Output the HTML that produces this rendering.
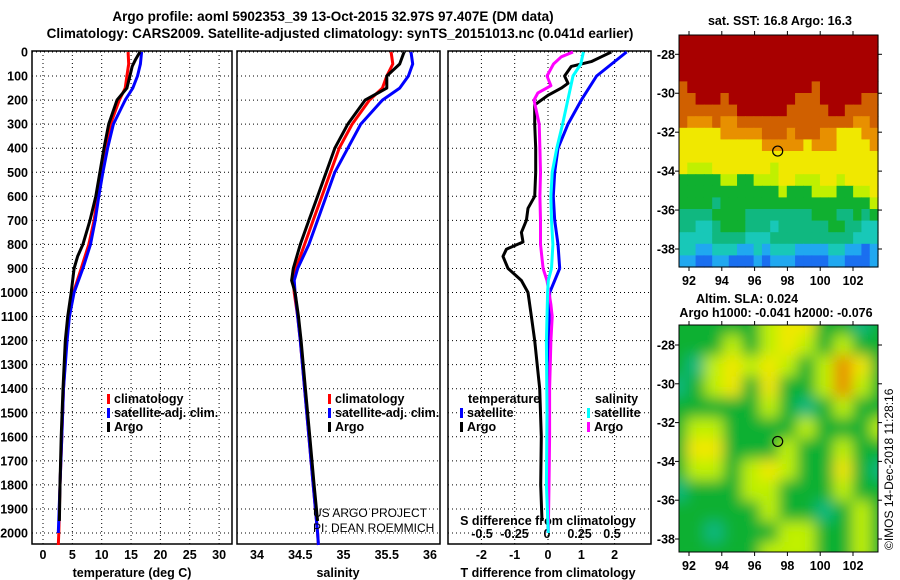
<!DOCTYPE html>
<html><head><meta charset="utf-8"><style>
body{margin:0;background:#fff}
svg{display:block;font-family:"Liberation Sans",sans-serif;font-weight:bold}
</style></head><body>
<svg id="s" width="900" height="580" viewBox="0 0 900 580">
<defs>
<filter id="blur" x="-5%" y="-5%" width="110%" height="110%"><feGaussianBlur stdDeviation="7"/></filter>
<clipPath id="clipB"><rect x="679" y="325" width="199" height="227"/></clipPath>
</defs>
<text x="333" y="21" font-size="13.5" text-anchor="middle">Argo profile: aoml 5902353_39 13-Oct-2015 32.97S 97.407E (DM data)</text>
<text x="340" y="38" font-size="13.5" text-anchor="middle">Climatology: CARS2009. Satellite-adjusted climatology: synTS_20151013.nc (0.041d earlier)</text>
<g id="g"></g>
</svg>
<script>
// ---------- data ----------
const depthTicks=[0,100,200,300,400,500,600,700,800,900,1000,1100,1200,1300,1400,1500,1600,1700,1800,1900,2000];
const tempTicks=[0,5,10,15,20,25,30];
const salTicks=[34,34.5,35,35.5,36];
const salTickLabels=["34","34.5","35","35.5","36"];
const tdTicks=[-2,-1,0,1,2];
const sdTicks=[-0.5,-0.25,0,0.25,0.5];
const sdTickLabels=["-0.5","-0.25","0","0.25","0.5"];
const latTicks=[-28,-30,-32,-34,-36,-38];
const lonTicks=[92,94,96,98,100,102];

const climDepth=[0,50,100,150,200,300,400,500,600,700,800,900,1000,1100,1200,1400,1600,1800,2000,2050];
const climTemp=[14.5,14.6,14.3,14.0,13.0,11.5,10.8,10.0,9.3,8.7,7.8,6.5,5.2,4.4,4.0,3.5,3.2,2.9,2.7,2.6];
const satDepth=[0,50,100,150,200,300,400,500,600,700,800,900,1000,1100,1200,1400,1600,1800,2000];
const satTemp=[16.8,16.6,16.1,15.3,14.0,12.0,11.0,10.2,9.5,8.9,8.1,6.8,5.3,4.5,4.1,3.5,3.2,2.9,2.6];
const argoDepth=[0,30,60,100,150,200,300,400,500,600,700,800,850,900,1000,1100,1200,1400,1600,1800,1950];
const argoTemp=[16.5,15.8,15.2,14.8,14.3,12.6,11.2,10.4,9.7,9.0,8.0,6.8,5.9,5.3,4.8,4.2,3.8,3.4,3.1,2.9,2.8];

const climSalDepth=[0,50,100,150,200,300,400,500,600,700,800,900,950,1000,1100,1200,1400,1600,1800,2000,2050];
const climSal=[35.55,35.57,35.5,35.45,35.3,35.1,34.95,34.85,34.75,34.65,34.55,34.45,34.42,34.43,34.47,34.5,34.55,34.6,34.65,34.7,34.71];
const satSal=[35.78,35.8,35.75,35.65,35.45,35.2,35.05,34.9,34.8,34.7,34.6,34.47,34.43,34.44,34.47,34.5,34.55,34.6,34.65,34.7,34.71];
const argoSalDepth=[0,50,100,150,200,300,400,500,600,700,800,900,950,1000,1100,1200,1400,1600,1800,1950];
const argoSal=[35.7,35.65,35.5,35.5,35.25,35.05,34.9,34.8,34.7,34.6,34.5,34.42,34.4,34.44,34.48,34.51,34.56,34.61,34.66,34.7];

const tdSatDepth=[0,100,200,300,400,500,600,700,800,900,950,1000,1100,1300,1600,2000];
const tdSat=[2.36,1.46,1.0,0.6,0.3,0.2,0.16,0.2,0.3,0.35,0.2,0.05,0.04,-0.02,-0.02,0];
const tdArgoDepth=[0,20,40,60,100,130,150,180,220,300,400,500,600,650,700,750,790,820,850,900,950,1000,1100,1200,1400,1600,1800,1950];
const tdArgo=[1.9,1.6,1.3,0.7,0.5,0.6,0.4,0.0,-0.4,-0.4,-0.37,-0.37,-0.4,-0.6,-0.65,-0.8,-0.75,-1.25,-1.35,-1.2,-0.8,-0.6,-0.5,-0.4,-0.25,-0.2,-0.22,-0.18];
const sdSatDepth=[0,50,100,200,300,400,500,600,700,800,900,950,1000,1200,1500,1800,2000];
const sdSat=[0.28,0.26,0.2,0.16,0.12,0.075,0.04,0.03,0.035,0.045,0.035,0.01,0.005,-0.005,0,-0.005,0.01];
const sdArgoDepth=[0,20,50,100,140,170,200,250,300,400,500,600,700,800,900,950,1050,1100,1200,1400,1600,1800,2000];
const sdArgo=[0.2,0.11,0.05,0,0.03,-0.07,-0.1,-0.08,-0.06,-0.055,-0.05,-0.055,-0.05,-0.05,-0.03,0,0.03,0.04,0.03,0.02,0.02,0.015,0.01];

const sstRows=[
"999999999999999999999999","999999999999999999999999","999999999999999999999999","999999999999999999999999",
"899999999999999989999999","889998999999998889999988","888888899999988888998888","877787788888888888888778",
"666667777788878887766677","666666666677777677766667","666666666666666666666666","655566666665666666666666",
"444445544555665556656666","444444444444544455544556","444434444444444444444445","333344443333333344433434",
"332234443332333333443322","222233332223333333333222","221122211212221111221101","110011000101110000110001"];
const slaRows=[
"444445664434","444545654544","435656545764","345646445754","444445434544","455444454445",
"466444544544","455456544643","344455444544","444445443454","443444554454","444445554454"];
const palette=["#1a6ff0","#20a8f0","#18c8b8","#10b880","#10b030","#c0f000","#f0e800","#e89000","#d06000","#a80000"];

// ---------- helpers ----------
const NS="http://www.w3.org/2000/svg";
const G=document.getElementById('g');
function mk(t,a,p){const e=document.createElementNS(NS,t);for(const k in a)e.setAttribute(k,a[k]);(p||G).appendChild(e);return e;}
const yD=d=>52+d*0.2405;
const xT=v=>43+v*5.87;
const xS=v=>257+(v-34)*86.5;
const xTD=v=>548+v*33.3;
const xSD=v=>547+v*130;
const P1=[32,232],P2=[237,440],P3=[448,651],YB=544;

function panel(px,name){
  const r=mk('rect',{x:px[0],y:51,width:px[1]-px[0],height:YB-51,fill:'none',stroke:'#000','stroke-width':1.5});
  
  
  depthTicks.forEach(d=>{
    const l=mk('line',{x1:px[0],x2:px[1],y1:yD(d),y2:yD(d),stroke:'#000','stroke-width':1,'stroke-dasharray':'1,3'});
    
    
  });
}
function vgrid(ticks,fx){
  ticks.forEach(v=>{
    const l=mk('line',{x1:fx(v),x2:fx(v),y1:51,y2:YB,stroke:'#000','stroke-width':1,'stroke-dasharray':'1,3'});
    
    
  });
}
function line(ds,vs,fx,col,name,w){
  const pts=ds.map((d,i)=>fx(vs[i]).toFixed(1)+','+yD(d).toFixed(1)).join(' ');
  const l=mk('polyline',{points:pts,fill:'none',stroke:col,'stroke-width':w||3,'stroke-linejoin':'round'});
  
  
}
function txt(x,y,s,opt,name){
  const t=mk('text',Object.assign({x:x,y:y,'font-size':12.5},opt||{}));
  t.textContent=s;
  
  
  return t;
}
function legend(x,y,col,label){
  const r=mk('rect',{x:x,y:y-9,width:3,height:10,fill:col});
  
  
  txt(x+7,y,label,{},'legend-entry');
}

// ---------- panels ----------
panel(P1,'temperature-panel');panel(P2,'salinity-panel');panel(P3,'difference-panel');
vgrid(tempTicks,xT);vgrid(tdTicks,xTD);
depthTicks.forEach(d=>txt(28,yD(d)+4.5,String(d),{'text-anchor':'end'},'depth-tick-label'));
tempTicks.forEach(v=>txt(xT(v),559,String(v),{'text-anchor':'middle'},'temperature-tick-label'));
salTicks.forEach((v,i)=>txt(xS(v),559,salTickLabels[i],{'text-anchor':'middle'},'salinity-tick-label'));
tdTicks.forEach(v=>txt(xTD(v),559,String(v),{'text-anchor':'middle'},'t-diff-tick-label'));
sdTicks.forEach((v,i)=>txt(xSD(v),538,sdTickLabels[i],{'text-anchor':'middle'},'s-diff-tick-label'));
txt(132,577,'temperature (deg C)',{'text-anchor':'middle'},'temperature-axis-title');
txt(338,577,'salinity',{'text-anchor':'middle'},'salinity-axis-title');
txt(548,577,'T difference from climatology',{'text-anchor':'middle'},'t-diff-axis-title');
txt(548,525,'S difference from climatology',{'text-anchor':'middle'},'s-diff-axis-title');

line(climDepth,climTemp,xT,'#f00','temp-climatology-line');
line(satDepth,satTemp,xT,'#00f','temp-satellite-line');
line(argoDepth,argoTemp,xT,'#000','temp-argo-line');
line(climSalDepth,climSal,xS,'#f00','sal-climatology-line');
line(climSalDepth,satSal,xS,'#00f','sal-satellite-line');
line(argoSalDepth,argoSal,xS,'#000','sal-argo-line');
line(tdSatDepth,tdSat,xTD,'#00f','tdiff-satellite-line');
line(tdArgoDepth,tdArgo,xTD,'#000','tdiff-argo-line');
line(sdArgoDepth,sdArgo,xSD,'#f0f','sdiff-argo-line');
line(sdSatDepth,sdSat,xSD,'#0ff','sdiff-satellite-line');

legend(107,403,'#f00','climatology');legend(107,417,'#00f','satellite-adj. clim.');legend(107,431,'#000','Argo');
legend(328,403,'#f00','climatology');legend(328,417,'#00f','satellite-adj. clim.');legend(328,431,'#000','Argo');
txt(468,403,'temperature',{},'legend-title-temperature');
legend(460,417,'#00f','satellite');legend(460,431,'#000','Argo');
txt(595,403,'salinity',{},'legend-title-salinity');
legend(587,417,'#0ff','satellite');legend(587,431,'#f0f','Argo');
txt(313,517,'US ARGO PROJECT',{'font-weight':'normal','font-size':12},'project-credit');
txt(313,532,'PI: DEAN ROEMMICH',{'font-weight':'normal','font-size':12},'pi-credit');

// ---------- maps ----------
const MX=[679,878];
const xLon=v=>689+(v-92)*16.4;
const yLatA=v=>54.3+(-28-v)*19.47;
const yLatB=v=>345+(-28-v)*19.4;
function gridMap(rows,x0,y0,w,h,parent,name){
  const nr=rows.length,nc=rows[0].length,cw=w/nc,ch=h/nr;
  rows.forEach((row,r)=>{for(let c=0;c<nc;c++){
    const e=mk('rect',{x:(x0+c*cw).toFixed(2),y:(y0+r*ch).toFixed(2),width:(cw+0.6).toFixed(2),height:(ch+0.6).toFixed(2),fill:palette[+row[c]]},parent);
    
    
  }});
}
gridMap(sstRows,679,35,199,232,G,'sst-cell');
const clipG=mk('g',{'clip-path':'url(#clipB)'});
mk('rect',{x:679,y:325,width:199,height:227,fill:palette[4]},clipG);
const blurG=mk('g',{filter:'url(#blur)'},clipG);
gridMap(slaRows,668,314,221,249,blurG,'sla-cell');
function mapFrame(y0,h,fy,name){
  const r=mk('rect',{x:MX[0],y:y0,width:MX[1]-MX[0],height:h,fill:'none',stroke:'#000','stroke-width':1});
  
  
  latTicks.forEach(v=>{
    mk('line',{x1:MX[0]-4,x2:MX[0],y1:fy(v),y2:fy(v),stroke:'#000'});
    mk('line',{x1:MX[1],x2:MX[1]+4,y1:fy(v),y2:fy(v),stroke:'#000'});
    txt(675,fy(v)+4.5,String(v),{'text-anchor':'end'},'latitude-tick-label');
  });
  lonTicks.forEach(v=>{
    mk('line',{x1:xLon(v),x2:xLon(v),y1:y0+h,y2:y0+h+4,stroke:'#000'});
    mk('line',{x1:xLon(v),x2:xLon(v),y1:y0-4,y2:y0,stroke:'#000'});
    txt(xLon(v),y0+h+18,String(v),{'text-anchor':'middle'},'longitude-tick-label');
  });
  const c=mk('circle',{cx:xLon(97.407),cy:fy(-32.97),r:5,fill:'none',stroke:'#000','stroke-width':1.2});
  
  
}
mapFrame(35,232,yLatA,'sst-map');
mapFrame(325,227,yLatB,'sla-map');
txt(780,25,'sat. SST: 16.8 Argo: 16.3',{'text-anchor':'middle'},'sst-map-title');
txt(747,303,'Altim. SLA: 0.024',{'text-anchor':'middle'},'sla-map-title');
txt(776,317,'Argo h1000: -0.041 h2000: -0.076',{'text-anchor':'middle'},'sla-map-subtitle');
txt(0,0,'©IMOS 14-Dec-2018 11:28:16',{'font-weight':'normal','font-size':12,transform:'translate(893,550) rotate(-90)'},'copyright-text');
</script>
</body></html>
